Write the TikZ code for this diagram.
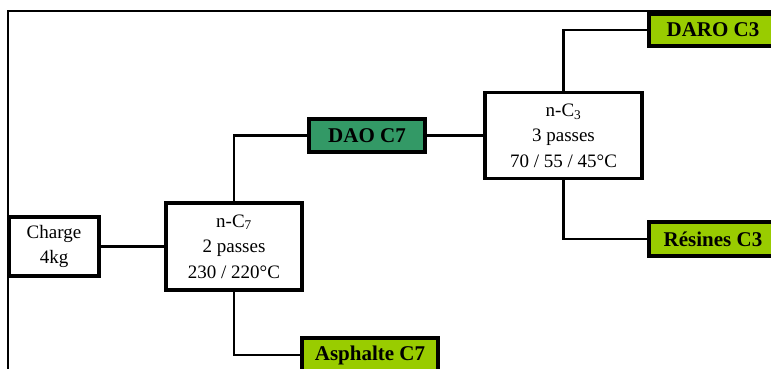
\documentclass[tikz,border=0pt]{standalone}
\usepackage{fontspec}
\setmainfont{Liberation Serif}
\definecolor{daogreen}{HTML}{339966}
\definecolor{prodgreen}{HTML}{99CC00}

\begin{document}
\begin{tikzpicture}[x=1pt, y=-1pt,
    stage/.style={draw, line width=3.2pt, fill=white, align=center, inner sep=0pt,
      font=\fontsize{19}{25.5}\selectfont},
    product/.style={draw, line width=3.4pt, inner sep=0pt,
      font=\fontsize{21}{25}\selectfont\bfseries},
    link/.style={line width=2.8pt}]
    \useasboundingbox (0,0) rectangle (771,369);
    \clip (0,0) rectangle (771,369);
    % frame
    \draw[line width=2.4pt] (8,400) -- (8,11) -- (800,11);
    % stages
    \node[stage, minimum width=90, minimum height=59] (charge) at (54,246.5) {Charge\\4kg};
    \node[stage, minimum width=136, minimum height=87] (nc7) at (234,246.5) {n-C\textsubscript{7}\\2 passes\\230 / 220°C};
    \node[stage, minimum width=157, minimum height=86] (nc3) at (563.5,135.5) {n-C\textsubscript{3}\\3 passes\\70 / 55 / 45°C};
    % products
    \node[product, fill=daogreen, minimum width=116, minimum height=33] (dao) at (367,135.5) {DAO C7};
    \node[product, fill=prodgreen, minimum width=128, minimum height=32] (daro) at (713,30) {DARO C3};
    \node[product, fill=prodgreen, minimum width=128, minimum height=34] (resines) at (713,239) {Résines C3};
    \node[product, fill=prodgreen, minimum width=136, minimum height=34] (asph) at (370,355) {Asphalte C7};
    % links
    \draw[link] (charge.east) -- (nc7.west);
    \draw[link] (nc7.north) |- (dao.west);
    \draw[link] (nc7.south) |- (asph.west);
    \draw[link] (dao.east) -- (nc3.west);
    \draw[link] (nc3.north) |- (daro.west);
    \draw[link] (nc3.south) |- (resines.west);
\end{tikzpicture}
\end{document}
